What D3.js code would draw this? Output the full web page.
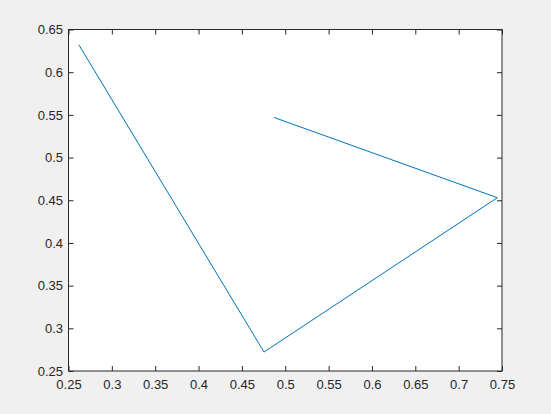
<!DOCTYPE html>
<html>
<head>
<meta charset="utf-8">
<script src="https://cdn.jsdelivr.net/npm/d3@7"></script>
<style>
    html, body { margin: 0; padding: 0; background: #f0f0f0; }
    svg { display: block; }
    .tick text { font-family: "Liberation Sans", Arial, sans-serif; font-size: 13px; fill: #262626; }
</style>
</head>
<body>
<div id="chart"></div>
<script>
// ── data ──
const xValues = [0.262, 0.4755, 0.7446, 0.487];
const yValues = [0.632, 0.2722, 0.453, 0.547];
const xTicks = [0.25, 0.3, 0.35, 0.4, 0.45, 0.5, 0.55, 0.6, 0.65, 0.7, 0.75];
const yTicks = [0.25, 0.3, 0.35, 0.4, 0.45, 0.5, 0.55, 0.6, 0.65];

const width = 551, height = 414;
const margin = { left: 68.5, right: 49, top: 29.5, bottom: 43 };
const innerW = width - margin.left - margin.right;
const innerH = height - margin.top - margin.bottom;

const svg = d3.select('#chart').append('svg')
    .attr('width', width)
    .attr('height', height);

const g = svg.append('g').attr('transform', `translate(${margin.left},${margin.top})`);

const x = d3.scaleLinear().domain([0.25, 0.75]).range([0, innerW]);
const y = d3.scaleLinear().domain([0.25, 0.65]).range([innerH, 0]);

// plot background
g.append('rect')
    .attr('width', innerW)
    .attr('height', innerH)
    .attr('fill', '#fff');

const fmt = d => String(+d.toFixed(2));

// axes - ticks inside, box on all sides
const axisStyle = sel => {
    sel.select('.domain').remove();
    sel.selectAll('line').attr('stroke', '#262626');
};

g.append('g')
    .attr('transform', `translate(0,${innerH})`)
    .call(d3.axisBottom(x).tickValues(xTicks).tickFormat(fmt).tickSizeInner(-5).tickSizeOuter(0).tickPadding(8.5))
    .call(axisStyle);

g.append('g')
    .call(d3.axisTop(x).tickValues(xTicks).tickFormat('').tickSizeInner(-5).tickSizeOuter(0))
    .call(axisStyle);

g.append('g')
    .call(d3.axisLeft(y).tickValues(yTicks).tickFormat(fmt).tickSizeInner(-5).tickSizeOuter(0).tickPadding(5.5))
    .call(axisStyle);

g.append('g')
    .attr('transform', `translate(${innerW},0)`)
    .call(d3.axisRight(y).tickValues(yTicks).tickFormat('').tickSizeInner(-5).tickSizeOuter(0))
    .call(axisStyle);

g.selectAll('.tick text').attr('fill', '#262626');

// box
g.append('rect')
    .attr('width', innerW)
    .attr('height', innerH)
    .attr('fill', 'none')
    .attr('stroke', '#262626')
    .attr('stroke-width', 1);

// data line
const pts = xValues.map((v, i) => [v, yValues[i]]);
g.append('path')
    .datum(pts)
    .attr('fill', 'none')
    .attr('stroke', '#0072bd')
    .attr('stroke-width', 1)
    .attr('d', d3.line().x(d => x(d[0])).y(d => y(d[1])));
</script>
</body>
</html>
